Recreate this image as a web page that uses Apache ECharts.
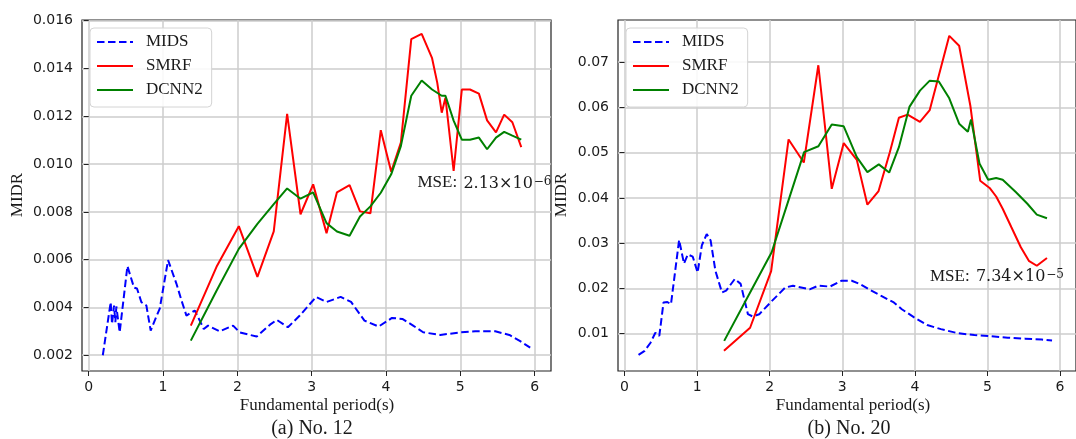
<!DOCTYPE html>
<html><head><meta charset="utf-8">
<script src="https://cdn.jsdelivr.net/npm/echarts@6/dist/echarts.min.js"></script>
<style>html,body{margin:0;padding:0;background:#fff}#c{width:1076px;height:439px}</style>
</head><body><div id="c"></div>
<script>
// ---- tick labels ----
const xTicks = [0, 1, 2, 3, 4, 5, 6];
const yTicksA = [0.002, 0.004, 0.006, 0.008, 0.010, 0.012, 0.014, 0.016];
const yTicksB = [0.01, 0.02, 0.03, 0.04, 0.05, 0.06, 0.07];

// ---- (a) No. 12 ----
const midsAX = [0.19,0.296,0.314,0.341,0.359,0.372,0.417,0.521,0.61,0.65,0.709,0.776,0.834,0.888,0.956,1.068,1.18,1.248,1.315,1.427,1.494,1.548,1.606,1.763,1.943,2.03,2.26,2.44,2.53,2.68,2.84,3.06,3.2,3.39,3.53,3.71,3.9,4.08,4.22,4.36,4.5,4.73,5.01,5.2,5.47,5.66,5.8,5.94];
const midsAY = [0.0020,0.00422,0.00331,0.00408,0.00338,0.00404,0.00296,0.00573,0.00483,0.00479,0.00422,0.00408,0.00303,0.00345,0.00395,0.00598,0.0050,0.0043,0.00366,0.00387,0.00345,0.0031,0.00324,0.0030,0.00324,0.00296,0.00278,0.00328,0.00348,0.00317,0.00366,0.00444,0.00423,0.00444,0.00423,0.00345,0.0032,0.00356,0.00352,0.00325,0.00296,0.00285,0.00296,0.0030,0.0030,0.00285,0.0026,0.00232];
const smrfAX = [1.374,1.72,2.02,2.27,2.49,2.67,2.85,3.02,3.2,3.34,3.51,3.65,3.79,3.93,4.07,4.2,4.34,4.48,4.62,4.69,4.75,4.8,4.91,5.02,5.13,5.25,5.36,5.48,5.59,5.7,5.82];
const smrfAY = [0.00324,0.0057,0.0074,0.00528,0.00718,0.0121,0.0079,0.00915,0.00711,0.00882,0.00912,0.00802,0.00794,0.01142,0.00968,0.0109,0.01523,0.01545,0.01443,0.0134,0.01215,0.01278,0.00971,0.01312,0.01312,0.01295,0.01183,0.01133,0.01207,0.01175,0.01071];
const dcnnAX = [1.374,1.72,2.02,2.27,2.49,2.67,2.85,3.02,3.2,3.34,3.51,3.65,3.79,3.93,4.07,4.2,4.34,4.48,4.62,4.75,4.8,4.91,5.02,5.13,5.25,5.36,5.48,5.59,5.7,5.82];
const dcnnAY = [0.00261,0.0047,0.00645,0.0075,0.00832,0.00898,0.00855,0.00882,0.00753,0.00718,0.007,0.00781,0.00823,0.0088,0.00957,0.01075,0.01286,0.0135,0.01312,0.01286,0.01286,0.01182,0.01102,0.01102,0.01111,0.01062,0.01111,0.01135,0.01119,0.01102];

// ---- (b) No. 20 ----
const midsBX = [0.193,0.277,0.358,0.425,0.479,0.537,0.59,0.64,0.752,0.819,0.872,0.94,1.007,1.065,1.132,1.186,1.252,1.342,1.40,1.52,1.60,1.70,1.766,1.856,2.035,2.215,2.32,2.55,2.67,2.83,2.99,3.13,3.25,3.39,3.53,3.71,3.82,3.99,4.17,4.36,4.59,4.82,5.01,5.28,5.52,5.75,5.89];
const midsBY = [0.0053,0.0062,0.0080,0.0102,0.0095,0.0169,0.0170,0.0165,0.0307,0.0255,0.0275,0.0270,0.0235,0.0295,0.0320,0.0306,0.0239,0.0191,0.0195,0.0221,0.0210,0.0143,0.0138,0.0143,0.0173,0.0202,0.0206,0.0198,0.0206,0.0204,0.0217,0.0217,0.0209,0.0196,0.0184,0.0169,0.0154,0.0136,0.0119,0.0110,0.0101,0.0097,0.0095,0.0091,0.0089,0.0087,0.0085];
const smrfBX = [1.37,1.73,2.02,2.26,2.47,2.67,2.855,3.02,3.2,3.346,3.5,3.655,3.78,3.9,4.07,4.205,4.474,4.61,4.765,4.9,5.03,5.12,5.21,5.33,5.46,5.57,5.68,5.82];
const smrfBY = [0.0062,0.0113,0.0238,0.0529,0.0478,0.0693,0.0420,0.0521,0.0484,0.0385,0.0415,0.0501,0.0577,0.0584,0.0568,0.0594,0.0758,0.0736,0.0603,0.0438,0.0422,0.0403,0.0376,0.0335,0.0291,0.0261,0.0250,0.0267];
const dcnnBX = [1.373,1.73,2.027,2.26,2.474,2.671,2.855,3.02,3.2,3.346,3.503,3.646,3.78,3.925,4.07,4.205,4.33,4.474,4.61,4.73,4.774,4.89,5.01,5.12,5.21,5.39,5.55,5.68,5.82];
const dcnnBY = [0.0084,0.0191,0.0280,0.0395,0.0501,0.0514,0.0562,0.0558,0.0490,0.0457,0.0474,0.0456,0.0512,0.0601,0.0637,0.0659,0.0657,0.0620,0.0564,0.0546,0.0573,0.0476,0.0440,0.0444,0.0440,0.0413,0.0387,0.0363,0.0355];

const zip = (xs, ys) => xs.map((x, i) => [x, ys[i]]);
const SERIF = '"Liberation Serif", "DejaVu Serif", serif';
const MATH = '"DejaVu Serif", serif';
const SANS = '"DejaVu Sans", sans-serif';
const TXT = '#1a1a1a';

function xAxis(gi) {
  return {
    type: 'value', gridIndex: gi, min: -0.09, max: 6.22,
    axisLine: { show: false },
    axisTick: { show: true, inside: false, length: 5, customValues: xTicks, lineStyle: { color: '#222', width: 1 } },
    axisLabel: { customValues: xTicks, fontFamily: SANS, fontSize: 14, color: TXT, margin: 9 },
    splitLine: { show: true, lineStyle: { color: '#cccccc', width: 1.5 } }
  };
}
function yAxis(gi, min, max, ticks, dec) {
  return {
    type: 'value', gridIndex: gi, min: min, max: max,
    axisLine: { show: false },
    axisTick: { show: true, inside: false, length: 5, customValues: ticks, lineStyle: { color: '#222', width: 1 } },
    axisLabel: { customValues: ticks, fontFamily: SANS, fontSize: 14, color: TXT, margin: 9,
      formatter: v => v.toFixed(dec) },
    splitLine: { show: true, lineStyle: { color: '#cccccc', width: 1.5 } }
  };
}
function mk(name, gi, data, color, dashed) {
  return {
    name: name, type: 'line', xAxisIndex: gi, yAxisIndex: gi, data: data,
    symbol: 'none', showSymbol: false, animation: false,
    lineStyle: { color: color, width: 2, type: dashed ? [7.5, 3.5] : 'solid' },
    itemStyle: { color: color }
  };
}
function legend(left) {
  return {
    left: left, top: 28, orient: 'vertical',
    data: ['MIDS', 'SMRF', 'DCNN2'],
    itemWidth: 36, itemHeight: 14, itemGap: 6,
    padding: [5, 9, 8, 6],
    itemStyle: { opacity: 0 },
    backgroundColor: 'rgba(255,255,255,0.85)', borderColor: '#d4d4d4', borderWidth: 1, borderRadius: 4,
    textStyle: { fontFamily: SERIF, fontSize: 17, color: TXT, lineHeight: 18, padding: [0, 0, 0, 8] }
  };
}
function txt(x, y, text, size, rot) {
  return { type: 'text', x: x, y: y, rotation: rot || 0, z: 10,
    style: { text: text, fontFamily: SERIF, fontSize: size, fill: TXT, align: 'center', verticalAlign: 'middle' } };
}
function mse(x, y, num, sup) {
  return { type: 'text', x: x, y: y, z: 10,
    style: { text: '{a|MSE: }{b|' + num + '}{s|' + sup + '}', align: 'left', verticalAlign: 'top',
      rich: {
        a: { fontFamily: SERIF, fontSize: 17, fill: TXT, lineHeight: 16, verticalAlign: 'bottom' },
        b: { fontFamily: MATH, fontSize: 16, fill: TXT, lineHeight: 16, verticalAlign: 'bottom', padding: [0, 0, 0, 2] },
        s: { fontFamily: MATH, fontSize: 12, fill: TXT, lineHeight: 12, padding: [0, 0, 8, 1], verticalAlign: 'top' }
      } } };
}

const chart = echarts.init(document.getElementById('c'), null, { renderer: 'canvas' });
chart.setOption({
  animation: false,
  backgroundColor: '#fff',
  grid: [
    { left: 82, top: 20, width: 469, height: 351, show: true, borderColor: '#222', borderWidth: 1.2, backgroundColor: 'transparent' },
    { left: 618, top: 20, width: 469, height: 351, show: true, borderColor: '#222', borderWidth: 1.2, backgroundColor: 'transparent' }
  ],
  xAxis: [xAxis(0), xAxis(1)],
  yAxis: [yAxis(0, 0.00134, 0.01603, yTicksA, 3), yAxis(1, 0.00175, 0.0793, yTicksB, 2)],
  legend: [legend(90), legend(626)],
  series: [
    mk('MIDS', 0, zip(midsAX, midsAY), '#0000ff', true),
    mk('SMRF', 0, zip(smrfAX, smrfAY), '#ff0000', false),
    mk('DCNN2', 0, zip(dcnnAX, dcnnAY), '#008000', false),
    mk('MIDS', 1, zip(midsBX, midsBY), '#0000ff', true),
    mk('SMRF', 1, zip(smrfBX, smrfBY), '#ff0000', false),
    mk('DCNN2', 1, zip(dcnnBX, dcnnBY), '#008000', false)
  ],
  graphic: [
    txt(18, 195, 'MIDR', 17, Math.PI / 2),
    txt(562, 195, 'MIDR', 17, Math.PI / 2),
    txt(317, 406, 'Fundamental period(s)', 17),
    txt(853, 406, 'Fundamental period(s)', 17),
    txt(312, 429, '(a) No. 12', 20),
    txt(849, 429, '(b) No. 20', 20),
    mse(417.5, 175.5, '2.13×10', '−6'),
    mse(930, 269, '7.34×10', '−5')
  ]
});
</script>
</body></html>
